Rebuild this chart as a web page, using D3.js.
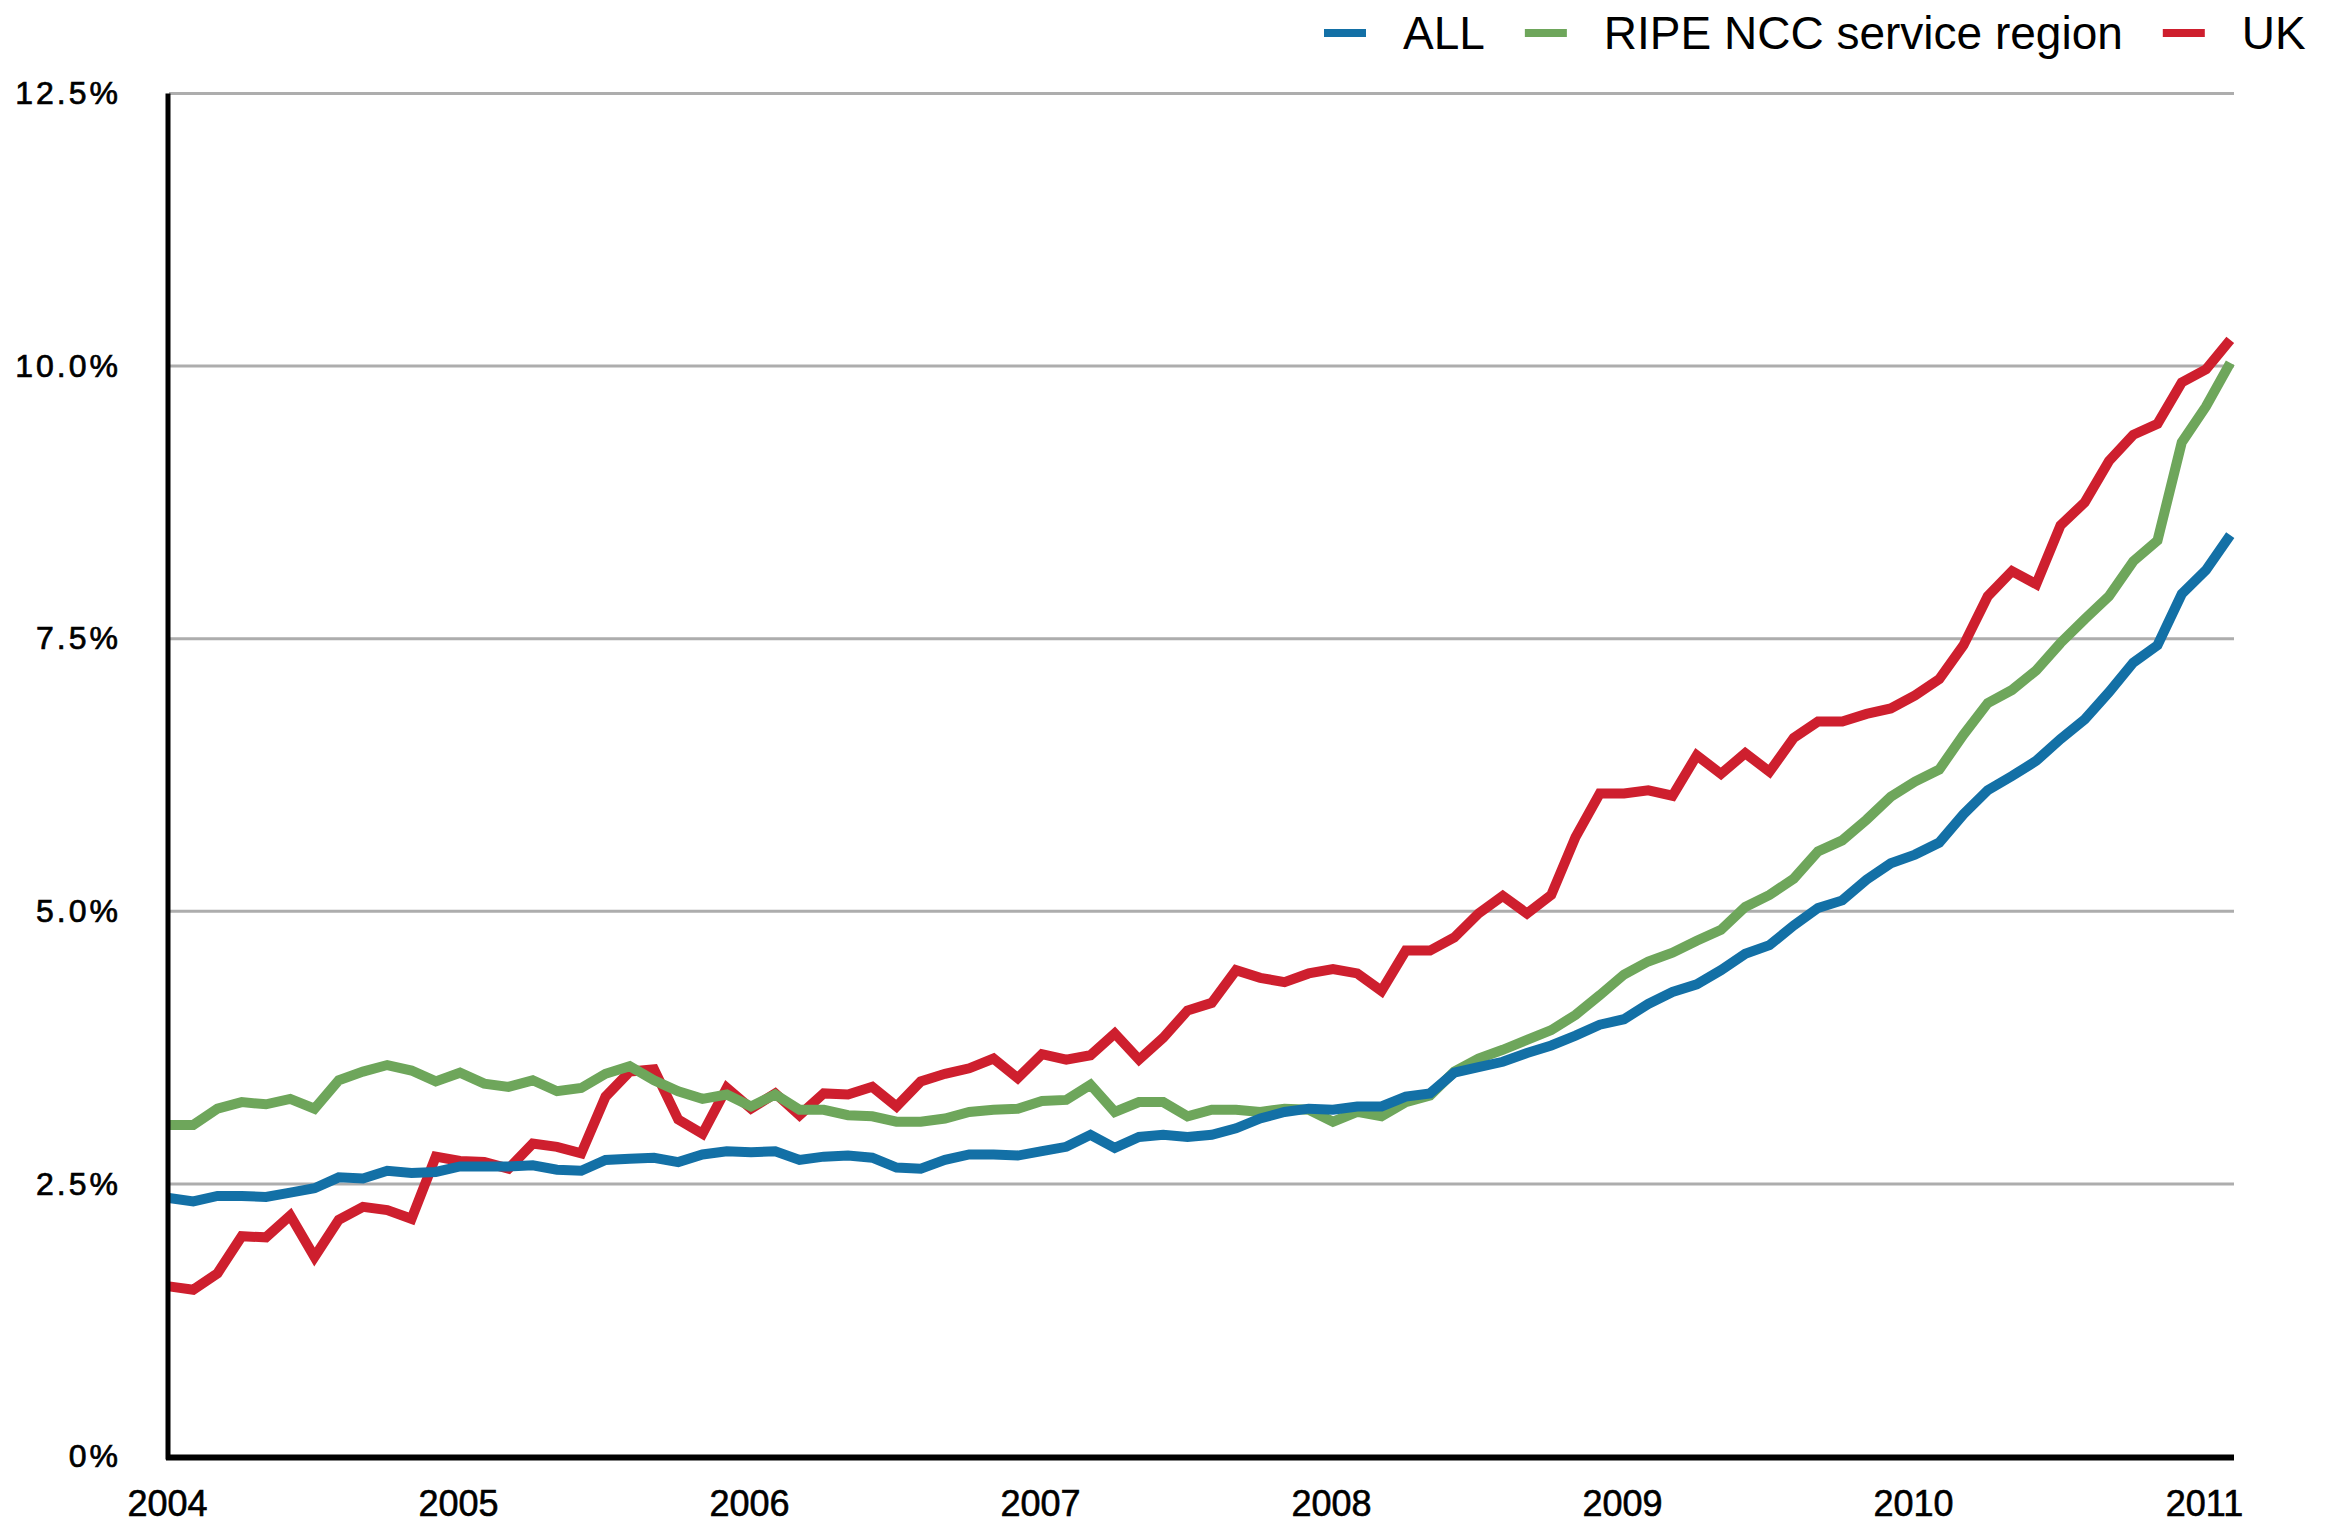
<!DOCTYPE html>
<html>
<head>
<meta charset="utf-8">
<script src="https://cdn.jsdelivr.net/npm/d3@7"></script>
<style>
  body { margin: 0; background: #fff; }
  text { font-family: "Liberation Sans", Arial, sans-serif; fill: #000; }
</style>
</head>
<body>
<div id="chart"></div>
<script>
// monthly values, Jan 2004 .. Feb 2011 (86 months)
const years = ['2004', '2005', '2006', '2007', '2008', '2009', '2010', '2011'];
const yTicks = [0, 2.5, 5, 7.5, 10, 12.5];
const yTickLabels = ['0%', '2.5%', '5.0%', '7.5%', '10.0%', '12.5%'];
const seriesNames = ['ALL', 'RIPE NCC service region', 'UK'];
const seriesColors = ['#1370a6', '#6ea65b', '#ce1f2e'];

const allValues = [
  2.37, 2.34, 2.39, 2.39, 2.38, 2.42, 2.46, 2.56, 2.55, 2.62, 2.60, 2.61,
  2.66, 2.66, 2.66, 2.67, 2.63, 2.62, 2.72, 2.73, 2.74, 2.70, 2.77, 2.80,
  2.79, 2.80, 2.72, 2.75, 2.76, 2.74, 2.65, 2.64, 2.72, 2.77, 2.77, 2.76,
  2.80, 2.84, 2.95, 2.83, 2.93, 2.95, 2.93, 2.95, 3.01, 3.10, 3.16, 3.19,
  3.18, 3.21, 3.21, 3.30, 3.33, 3.52, 3.57, 3.62, 3.70, 3.77, 3.86, 3.96,
  4.01, 4.15, 4.26, 4.33, 4.46, 4.61, 4.69, 4.87, 5.03, 5.10, 5.29, 5.44,
  5.52, 5.63, 5.89, 6.11, 6.24, 6.38, 6.58, 6.76, 7.01, 7.28, 7.44, 7.91,
  8.13, 8.45
];
const ripeValues = [
  3.04, 3.04, 3.19, 3.25, 3.23, 3.28, 3.19, 3.45, 3.53, 3.59, 3.54, 3.44,
  3.52, 3.42, 3.39, 3.45, 3.35, 3.38, 3.51, 3.58, 3.45, 3.35, 3.28, 3.32,
  3.21, 3.32, 3.18, 3.18, 3.13, 3.12, 3.07, 3.07, 3.10, 3.16, 3.18, 3.19,
  3.26, 3.27, 3.41, 3.16, 3.25, 3.25, 3.12, 3.18, 3.18, 3.16, 3.19, 3.18,
  3.07, 3.16, 3.12, 3.25, 3.31, 3.53, 3.65, 3.73, 3.82, 3.91, 4.05, 4.23,
  4.42, 4.54, 4.62, 4.73, 4.83, 5.04, 5.15, 5.30, 5.55, 5.65, 5.84, 6.05,
  6.19, 6.30, 6.62, 6.91, 7.03, 7.21, 7.46, 7.68, 7.89, 8.21, 8.40, 9.30,
  9.63, 10.03
];
const ukValues = [
  1.56, 1.53, 1.68, 2.02, 2.01, 2.21, 1.83, 2.17, 2.29, 2.26, 2.18, 2.75,
  2.71, 2.70, 2.64, 2.87, 2.84, 2.78, 3.30, 3.53, 3.55, 3.09, 2.96, 3.38,
  3.19, 3.33, 3.13, 3.33, 3.32, 3.39, 3.21, 3.44, 3.51, 3.56, 3.65, 3.47,
  3.69, 3.64, 3.68, 3.88, 3.64, 3.84, 4.09, 4.16, 4.46, 4.39, 4.35, 4.43,
  4.47, 4.43, 4.27, 4.64, 4.64, 4.76, 4.98, 5.14, 4.98, 5.15, 5.68, 6.08,
  6.08, 6.11, 6.06, 6.43, 6.26, 6.45, 6.28, 6.59, 6.74, 6.74, 6.81, 6.86,
  6.98, 7.13, 7.44, 7.89, 8.12, 8.00, 8.54, 8.75, 9.13, 9.37, 9.47, 9.85,
  9.97, 10.24
];

const width = 2328;
const height = 1523;

const svg = d3.select('#chart')
  .append('svg')
  .attr('width', width)
  .attr('height', height);

// month index -> x
const x = d3.scaleLinear()
  .domain([0, 85])
  .range([169, 169 + 85 * 24.25]);

const y = d3.scaleLinear()
  .domain([0, 12.5])
  .range([1456.5, 93.5]);

const plotRight = 2234;

// gridlines
svg.append('g')
  .selectAll('line')
  .data(yTicks)
  .join('line')
  .attr('x1', x(0))
  .attr('x2', plotRight)
  .attr('y1', d => y(d))
  .attr('y2', d => y(d))
  .attr('stroke', '#adadad')
  .attr('stroke-width', 3);

// y labels
const yAxis = d3.axisLeft(y)
  .tickValues(yTicks)
  .tickSize(0)
  .tickPadding(0)
  .tickFormat((d, i) => yTickLabels[i]);

svg.append('g')
  .attr('transform', 'translate(121,0)')
  .call(yAxis)
  .call(g => g.select('.domain').remove())
  .selectAll('text')
  .attr('font-size', 32)
  .attr('letter-spacing', 3)
  .attr('font-family', '"Liberation Sans", Arial, sans-serif')
  .attr('fill', '#000')
  .attr('stroke', '#000')
  .attr('stroke-width', 0.7);

// x labels (one per year)
const xAxis = d3.axisBottom(x)
  .tickValues(years.map((d, i) => i * 12))
  .tickSize(0)
  .tickPadding(0)
  .tickFormat((d, i) => years[i]);

svg.append('g')
  .attr('transform', 'translate(-2,1490)')
  .call(xAxis)
  .call(g => g.select('.domain').remove())
  .selectAll('text')
  .attr('font-size', 36)
  .attr('font-family', '"Liberation Sans", Arial, sans-serif')
  .attr('fill', '#000')
  .attr('stroke', '#000')
  .attr('stroke-width', 0.6);

// series lines (UK at the bottom, ALL on top)
const series = [
  { name: seriesNames[2], color: seriesColors[2], values: ukValues },
  { name: seriesNames[1], color: seriesColors[1], values: ripeValues },
  { name: seriesNames[0], color: seriesColors[0], values: allValues }
];

const line = d3.line()
  .x((d, i) => x(i))
  .y(d => y(d));

svg.append('g')
  .selectAll('path')
  .data(series)
  .join('path')
  .attr('d', d => line(d.values))
  .attr('fill', 'none')
  .attr('stroke', d => d.color)
  .attr('stroke-width', 10)
  .attr('stroke-linejoin', 'miter');

// axis lines
svg.append('line')
  .attr('x1', x(0) - 1).attr('x2', x(0) - 1)
  .attr('y1', y(12.5)).attr('y2', y(0) + 3)
  .attr('stroke', '#000')
  .attr('stroke-width', 5);

svg.append('line')
  .attr('x1', x(0) - 3).attr('x2', plotRight)
  .attr('y1', y(0) + 1).attr('y2', y(0) + 1)
  .attr('stroke', '#000')
  .attr('stroke-width', 6);

// legend
const legend = svg.append('g');
let lx = 1324;
seriesNames.forEach((name, i) => {
  legend.append('rect')
    .attr('x', lx)
    .attr('y', 29)
    .attr('width', 42)
    .attr('height', 8)
    .attr('fill', seriesColors[i]);
  const t = legend.append('text')
    .attr('x', lx + 79)
    .attr('y', 49)
    .attr('font-size', 46)
    .text(name);
  lx = lx + 79 + t.node().getComputedTextLength() + 40;
});
</script>
</body>
</html>
